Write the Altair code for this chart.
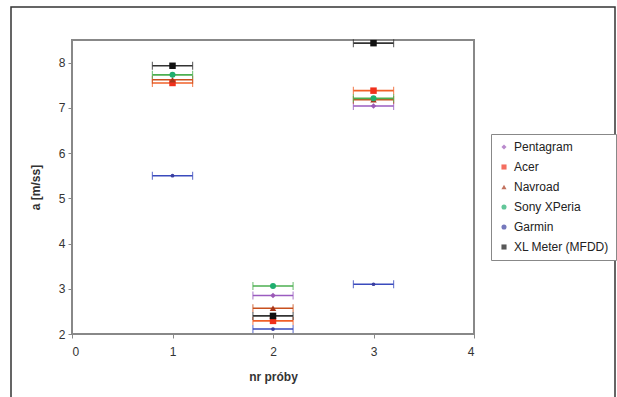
import altair as alt
import pandas as pd

samples = [1, 2, 3]
x_err = 0.2
series = ["Pentagram", "Acer", "Navroad", "Sony XPeria", "Garmin", "XL Meter (MFDD)"]
pentagram = [None, 2.85, 7.04]
acer = [7.55, 2.29, 7.38]
navroad = [7.62, 2.57, 7.18]
sony = [7.73, 3.06, 7.21]
garmin = [5.50, 2.11, 3.10]
xl_meter = [7.93, 2.40, 8.43]
y_ticks = [2, 3, 4, 5, 6, 7, 8]
x_ticks = [0, 1, 2, 3, 4]

values = [pentagram, acer, navroad, sony, garmin, xl_meter]
marker_colors = ["#9b59b6", "#f0301c", "#a8361a", "#1fae6e", "#3b3fa0", "#111111"]
bar_colors = ["#9a5cc0", "#f06028", "#c8501e", "#4caf50", "#3a4bbd", "#333333"]
shapes = ["diamond", "square", "triangle-up", "circle", "circle", "square"]
sizes = [30, 42, 42, 36, 14, 42]

rows = []
for name, vals, bc, sz in zip(series, values, bar_colors, sizes):
    for s, v in zip(samples, vals):
        if v is None:
            continue
        rows.append({"series": name, "x": s, "y": v,
                     "lo": s - x_err, "hi": s + x_err, "barcol": bc, "sz": sz})
df = pd.DataFrame(rows)

xs = alt.Scale(domain=[0, 4], nice=False)
ys = alt.Scale(domain=[2, 8.5], nice=False, zero=False)

xaxis = alt.Axis(values=x_ticks, format="d", title="nr próby", grid=False, domain=False,
                 labelFontSize=12, labelColor="#333", tickColor="#888", tickSize=4,
                 labelPadding=8, titleFontSize=12, titleFontWeight="bold",
                 titleColor="#333", titlePadding=14, labelFont="Liberation Sans",
                 titleFont="Liberation Sans")
yaxis = alt.Axis(values=y_ticks, format="d", title="a [m/ss]", grid=False, domain=False,
                 labelFontSize=12, labelColor="#333", tickColor="#888", tickSize=4,
                 labelPadding=3, titleFontSize=12, titleFontWeight="bold",
                 titleColor="#333", titlePadding=16, labelFont="Liberation Sans",
                 titleFont="Liberation Sans")

base = alt.Chart(df)

bars = base.mark_rule(strokeWidth=1.6).encode(
    x=alt.X("lo:Q", scale=xs, axis=xaxis),
    x2="hi:Q",
    y=alt.Y("y:Q", scale=ys, axis=yaxis),
    color=alt.Color("barcol:N", scale=None),
)
cap_lo = base.mark_tick(orient="vertical", size=8, thickness=1.2).encode(
    x=alt.X("lo:Q", scale=xs), y=alt.Y("y:Q", scale=ys),
    color=alt.Color("barcol:N", scale=None))
cap_hi = base.mark_tick(orient="vertical", size=8, thickness=1.2).encode(
    x=alt.X("hi:Q", scale=xs), y=alt.Y("y:Q", scale=ys),
    color=alt.Color("barcol:N", scale=None))

points = base.mark_point(filled=True, opacity=1).encode(
    x=alt.X("x:Q", scale=xs),
    y=alt.Y("y:Q", scale=ys),
    color=alt.Color("series:N", scale=alt.Scale(domain=series, range=marker_colors),
                    legend=alt.Legend(title=None, orient="none", legendX=419, legendY=94,
                                      labelFontSize=12, labelColor="#222",
                                      labelFont="Liberation Sans",
                                      symbolSize=26, strokeColor="#888",
                                      fillColor="white", padding=7, rowPadding=8,
                                      labelLimit=200)),
    shape=alt.Shape("series:N", scale=alt.Scale(domain=series, range=shapes)),
    size=alt.Size("sz:Q", scale=None, legend=None),
)

frame = alt.Chart(pd.DataFrame({"a": [0]})).mark_rect(
    fill=None, stroke="#333", strokeWidth=1.5).encode(
    x=alt.value(-61), x2=alt.value(543), y=alt.value(-33), y2=alt.value(420))

chart = alt.layer(frame, bars, cap_lo, cap_hi, points).properties(
    width=402, height=294,
    autosize=alt.AutoSizeParams(type="none"),
    padding={"left": 72, "top": 40, "right": 143, "bottom": 63},
    background="white",
).configure_view(stroke="#888", strokeWidth=2)

chart.save("out.html", embed_options={"renderer": "svg", "actions": False})
